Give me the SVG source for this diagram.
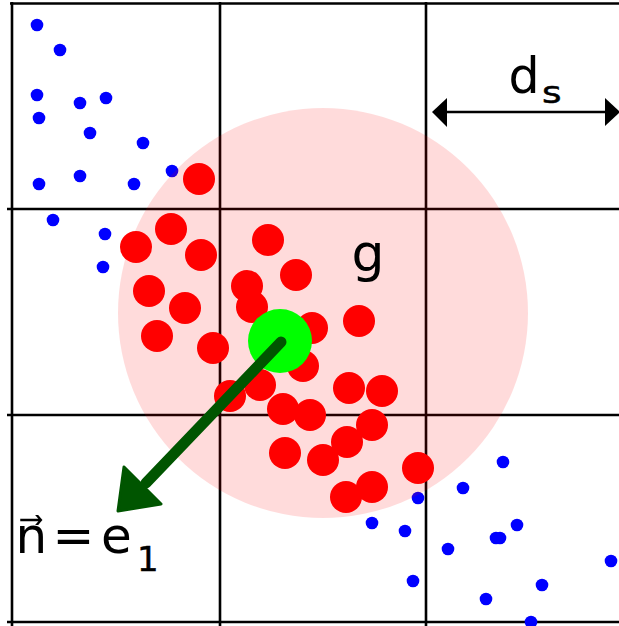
<svg xmlns="http://www.w3.org/2000/svg" width="619" height="626" viewBox="0 0 619 626">
<style>
.grid{stroke:#000;stroke-width:2.6;fill:none}
.blue{fill:#0000ff}
.red{fill:#ff0000}
.lbl{font-family:"DejaVu Sans",Verdana,sans-serif;fill:#000}
.sub{stroke:#000;stroke-width:0.5}
</style>
<defs>
<circle id="b" r="6.3" class="blue"/>
<circle id="r" r="16" class="red"/>
</defs>
<rect width="619" height="626" fill="#fff"/>
<g id="grid">
<line class="grid" x1="10" y1="3.5" x2="619" y2="3.5"/>
<line class="grid" x1="7" y1="209" x2="619" y2="209"/>
<line class="grid" x1="7" y1="415" x2="619" y2="415"/>
<line class="grid" x1="7" y1="622" x2="619" y2="622"/>
<line class="grid" x1="12" y1="2" x2="12" y2="626"/>
<line class="grid" x1="220" y1="2" x2="220" y2="626"/>
<line class="grid" x1="426" y1="2" x2="426" y2="626"/>
</g>
<g id="blue-points">
<use href="#b" x="37" y="25"/><use href="#b" x="60" y="50"/><use href="#b" x="37" y="95"/>
<use href="#b" x="80" y="103"/><use href="#b" x="106" y="98"/><use href="#b" x="39" y="118"/>
<use href="#b" x="90" y="133"/><use href="#b" x="143" y="143"/><use href="#b" x="39" y="184"/>
<use href="#b" x="80" y="176"/><use href="#b" x="134" y="184"/><use href="#b" x="172" y="171"/>
<use href="#b" x="53" y="220"/><use href="#b" x="105" y="234"/><use href="#b" x="103" y="267"/>
<use href="#b" x="503" y="462"/><use href="#b" x="463" y="488"/><use href="#b" x="418" y="498"/>
<use href="#b" x="372" y="523"/><use href="#b" x="405" y="531"/><use href="#b" x="517" y="525"/>
<use href="#b" x="496" y="538"/><use href="#b" x="500" y="538"/><use href="#b" x="448" y="549"/>
<use href="#b" x="611" y="561"/><use href="#b" x="413" y="581"/><use href="#b" x="542" y="585"/>
<use href="#b" x="486" y="599"/><use href="#b" x="531" y="622"/>
</g>
<g id="neighborhood">
<circle cx="323" cy="313" r="205" fill="#ff0000" fill-opacity="0.14"/>
</g>
<g id="red-points">
<use href="#r" x="199" y="179"/><use href="#r" x="171" y="229"/><use href="#r" x="136" y="247"/>
<use href="#r" x="201" y="255"/><use href="#r" x="268" y="240"/><use href="#r" x="296" y="275"/>
<use href="#r" x="149" y="291"/><use href="#r" x="185" y="308"/><use href="#r" x="247" y="286"/>
<use href="#r" x="252" y="307"/><use href="#r" x="157" y="336"/><use href="#r" x="213" y="348"/>
<use href="#r" x="312" y="328"/><use href="#r" x="359" y="321"/><use href="#r" x="303" y="366"/>
<use href="#r" x="260" y="385"/><use href="#r" x="230" y="396"/><use href="#r" x="283" y="409"/>
<use href="#r" x="310" y="415"/><use href="#r" x="349" y="388"/><use href="#r" x="382" y="391"/>
<use href="#r" x="372" y="425"/><use href="#r" x="347" y="442"/><use href="#r" x="285" y="453"/>
<use href="#r" x="323" y="460"/><use href="#r" x="418" y="468"/><use href="#r" x="372" y="487"/>
<use href="#r" x="346" y="497"/>
</g>
<g id="center-point">
<circle cx="280" cy="341" r="32" fill="#00ff00"/>
</g>
<g id="connectors">
<line x1="281" y1="342" x2="146" y2="483" stroke="#005500" stroke-width="11" stroke-linecap="round"/>
<polygon points="124,467 161,504 118,511" fill="#005500" stroke="#005500" stroke-width="3" stroke-linejoin="round"/>
<line x1="444" y1="112" x2="608" y2="112" stroke="#000" stroke-width="2.5"/>
<polygon points="432,112 447,98 447,127" fill="#000"/>
<polygon points="620,112 605,98 605,126" fill="#000"/>
</g>
<g id="labels">
<text class="lbl" font-size="49" x="508.5" y="93">d</text>
<text class="lbl sub" font-size="30" x="542" y="103.5" transform="translate(542 0) scale(1.25 1) translate(-542 0)">s</text>
<text class="lbl" font-size="52" x="351.5" y="271">g</text>
<text class="lbl" font-size="50" x="15.5" y="553">n&#x20D7;</text>
<text class="lbl" font-size="50" x="52.5" y="553">=</text>
<text class="lbl" font-size="50" x="101" y="553">e</text>
<text class="lbl sub" font-size="34" x="137" y="571">1</text>
</g>
</svg>
